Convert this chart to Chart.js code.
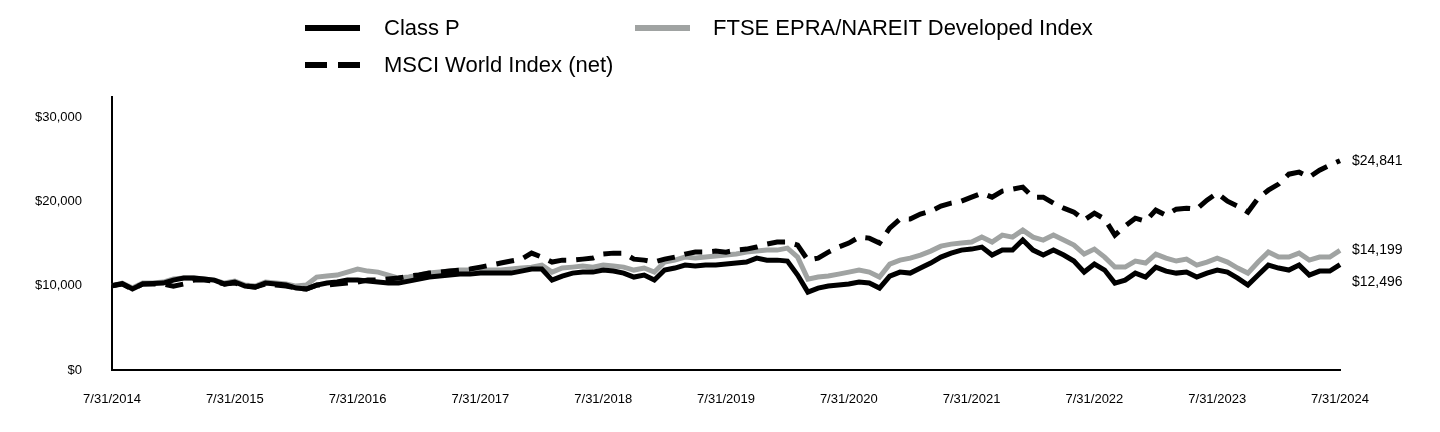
<!DOCTYPE html>
<html>
<head>
<meta charset="utf-8">
<title>Growth of $10,000</title>
<script src="https://cdn.jsdelivr.net/npm/chart.js@4/dist/chart.umd.min.js"></script>
<style>
	body { margin: 0; background: #fff; }
	#wrapper-growth { position: relative; width: 1440px; height: 432px; font-family: "Liberation Sans", Arial, sans-serif; }
	.lg-item { position: absolute; font-size: 22px; color: #000; line-height: 26px; white-space: nowrap; }
	.lg-line { position: absolute; height: 6px; }
</style>
</head>
<body>
<div id="wrapper-growth">
	<div class="lg-line" style="left:305px;top:25px;width:55px;background:#000"></div>
	<div class="lg-item" style="left:384px;top:15px">Class P</div>
	<div class="lg-line" style="left:635px;top:25px;width:55px;background:#a0a3a2"></div>
	<div class="lg-item" style="left:713px;top:15px">FTSE EPRA/NAREIT Developed Index</div>
	<div class="lg-line" style="left:305px;top:62px;width:22px;background:#000"></div>
	<div class="lg-line" style="left:338px;top:62px;width:22px;background:#000"></div>
	<div class="lg-item" style="left:384px;top:52px">MSCI World Index (net)</div>
	<canvas id="lc-growth" width="1440" height="432"></canvas>
</div>
<script>
// monthly month-end values, 7/31/2014 .. 7/31/2024
const startYear = 2014;
const monthCount = 121;

const classP = [
	10000, 10260, 9610, 10200, 10260, 10320, 10670, 10910, 10910, 10790, 10670, 10200,
	10440, 9960, 9840, 10320, 10200, 10080, 9720, 9610, 10080, 10320, 10440, 10670,
	10670, 10550, 10440, 10320, 10320, 10550, 10790, 11030, 11150, 11270, 11380, 11380,
	11500, 11500, 11500, 11500, 11740, 11980, 11980, 10670, 11150, 11500, 11620, 11620,
	11860, 11740, 11500, 11030, 11270, 10670, 11860, 12100, 12450, 12330, 12450, 12450,
	12570, 12690, 12810, 13280, 13040, 13040, 12930, 11270, 9250, 9720, 9960, 10080,
	10200, 10440, 10320, 9720, 11150, 11620, 11500, 12100, 12690, 13400, 13870, 14230,
	14350, 14590, 13640, 14230, 14230, 15420, 14230, 13640, 14230, 13640, 12930, 11620,
	12570, 11860, 10320, 10670, 11500, 11030, 12210, 11740, 11500, 11620, 11030, 11500,
	11860, 11620, 10910, 10080, 11270, 12450, 12100, 11860, 12450, 11270, 11740, 11740,
	12496,
];

const ftseEpra = [
	10000, 10320, 9720, 10320, 10320, 10440, 10790, 10910, 10910, 10790, 10670, 10320,
	10550, 10080, 9960, 10440, 10320, 10200, 9960, 10080, 11030, 11150, 11270, 11620,
	11980, 11740, 11620, 11270, 10910, 11030, 11270, 11500, 11620, 11740, 11860, 11860,
	11860, 11860, 11860, 11980, 12100, 12210, 12450, 11620, 12100, 12210, 12330, 12210,
	12450, 12330, 12210, 11860, 12100, 11620, 12810, 13040, 13400, 13280, 13400, 13520,
	13640, 13760, 13990, 14110, 14230, 14230, 14470, 13400, 10790, 11030, 11150, 11380,
	11620, 11860, 11620, 11030, 12570, 13040, 13280, 13640, 14110, 14700, 14940, 15060,
	15180, 15770, 15180, 16010, 15770, 16600, 15770, 15420, 16010, 15420, 14820, 13760,
	14350, 13400, 12210, 12210, 12930, 12690, 13760, 13280, 12930, 13160, 12450, 12810,
	13280, 12810, 12100, 11500, 12810, 13990, 13400, 13400, 13870, 13040, 13400, 13400,
	14199,
];

const msciWorld = [
	10000, 10200, 9610, 10200, 10200, 10200, 9960, 10200, 10670, 10670, 10550, 10200,
	10320, 9960, 9840, 10200, 10080, 9960, 9720, 9610, 10080, 10080, 10200, 10320,
	10440, 10670, 10670, 10790, 10910, 11150, 11270, 11500, 11620, 11740, 11860, 11980,
	12210, 12450, 12690, 12930, 13160, 13870, 13400, 12810, 13040, 13040, 13160, 13280,
	13760, 13870, 13870, 13160, 13040, 12810, 13160, 13400, 13760, 13990, 13990, 14110,
	13990, 14230, 14350, 14590, 14940, 15180, 15180, 14820, 13040, 13280, 13990, 14590,
	15060, 15770, 15650, 15060, 16840, 17910, 17910, 18500, 18850, 19450, 19800, 20040,
	20510, 20990, 20510, 21230, 21460, 21700, 20510, 20510, 19800, 19210, 18740, 17790,
	18620, 17910, 16010, 17080, 18020, 17670, 18970, 18380, 19090, 19210, 19090, 20160,
	20990, 20040, 19450, 18740, 20400, 21340, 22060, 23240, 23480, 22890, 23720, 24310,
	24841,
];

const yTicks = [0, 10000, 20000, 30000];
const yTop = 32400;

let labels = [];
for (let i = 0; i < monthCount; i++) {
	let monthIdx = (6 + i) % 12;
	let year = startYear + Math.floor((6 + i) / 12);
	let lastDay = new Date(year, monthIdx + 1, 0).getDate();
	labels.push(`${monthIdx + 1}/${lastDay}/${year}`);
}

const fmtMoney = (v) => "$" + Math.round(v).toLocaleString("en-US");

// value labels at the right end of each line
const endLabels = {
	id: "endLabels",
	afterDatasetsDraw(chart) {
		let { ctx, chartArea, scales } = chart;
		let shift = { 0: 17, 1: 0, 2: 0 };
		ctx.save();
		ctx.font = "14px 'Liberation Sans', Arial, sans-serif";
		ctx.fillStyle = "#000";
		ctx.textBaseline = "middle";
		ctx.textAlign = "left";
		chart.data.datasets.forEach((ds, idx) => {
			let last = ds.data[ds.data.length - 1];
			let y = scales.y.getPixelForValue(last) + shift[idx];
			ctx.fillText(fmtMoney(last), chartArea.right + 12, y);
		});
		ctx.restore();
	},
};

Chart.defaults.font.family = "'Liberation Sans', Arial, sans-serif";
Chart.defaults.color = "#000";

let ctx = document.getElementById("lc-growth").getContext("2d");

new Chart(ctx, {
	type: "line",
	data: {
		labels: labels,
		datasets: [
			{
				label: "Class P",
				data: classP,
				borderColor: "#000000",
				borderWidth: 5,
				order: 1,
			},
			{
				label: "MSCI World Index (net)",
				data: msciWorld,
				borderColor: "#000000",
				borderWidth: 5,
				borderDash: [18, 10],
				order: 0,
			},
			{
				label: "FTSE EPRA/NAREIT Developed Index",
				data: ftseEpra,
				borderColor: "#a0a3a2",
				borderWidth: 5,
				order: 2,
			},
		],
	},
	options: {
		responsive: false,
		animation: false,
		devicePixelRatio: 1,
		layout: {
			padding: { top: 97, right: 100, bottom: 0, left: 0 },
		},
		elements: {
			point: { radius: 0 },
			line: { tension: 0, borderJoinStyle: "miter", borderCapStyle: "butt" },
		},
		scales: {
			x: {
				type: "category",
				offset: false,
				grid: { display: false, drawTicks: false },
				border: { display: true, color: "#000", width: 2 },
				ticks: {
					autoSkip: false,
					maxRotation: 0,
					minRotation: 0,
					padding: 22,
					font: { size: 13 },
					callback: function (value, index) {
						return index % 12 === 0 ? labels[index] : "";
					},
				},
				afterFit: (scale) => {
					scale.height = 62;
				},
			},
			y: {
				min: 0,
				max: yTop,
				grid: { display: false, drawTicks: false },
				border: { display: true, color: "#000", width: 2 },
				ticks: {
					padding: 30,
					font: { size: 13 },
					callback: (v) => fmtMoney(v),
				},
				afterBuildTicks: (scale) => {
					scale.ticks = yTicks.map((v) => ({ value: v }));
				},
				afterFit: (scale) => {
					scale.width = 112;
				},
			},
		},
		plugins: {
			legend: { display: false },
			tooltip: { enabled: false },
		},
	},
	plugins: [endLabels],
});
</script>
</body>
</html>
